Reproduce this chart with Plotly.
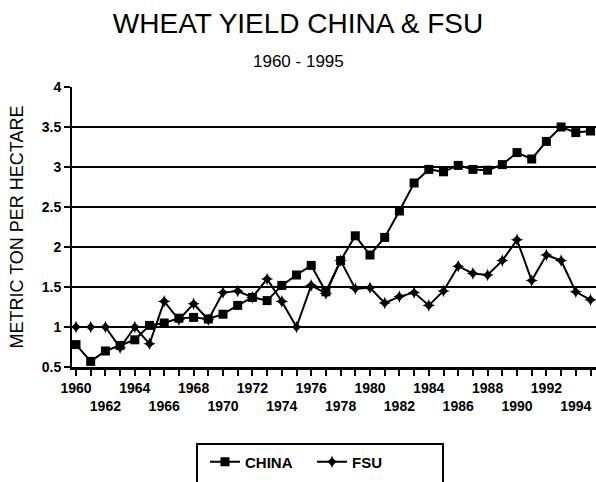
import plotly.graph_objects as go

years = list(range(1960, 1996))
china = [0.78, 0.57, 0.70, 0.77, 0.84, 1.02, 1.05, 1.11, 1.12, 1.10,
         1.16, 1.27, 1.37, 1.33, 1.52, 1.65, 1.77, 1.44, 1.83, 2.14,
         1.90, 2.12, 2.45, 2.80, 2.97, 2.94, 3.02, 2.97, 2.96, 3.03,
         3.18, 3.10, 3.32, 3.50, 3.43, 3.45]
fsu = [1.00, 1.00, 1.00, 0.74, 1.00, 0.79, 1.32, 1.09, 1.29, 1.09,
       1.43, 1.45, 1.37, 1.60, 1.32, 1.00, 1.52, 1.42, 1.83, 1.48,
       1.49, 1.30, 1.38, 1.43, 1.27, 1.45, 1.76, 1.67, 1.65, 1.83,
       2.09, 1.58, 1.90, 1.83, 1.44, 1.34]

row1_years = [1960, 1964, 1968, 1972, 1976, 1980, 1984, 1988, 1992]
row1_labels = ["1960", "1964", "1968", "1972", "1976", "1980", "1984", "1988", "1992"]
row2_years = [1962, 1966, 1970, 1974, 1978, 1982, 1986, 1990, 1994]
row2_labels = ["1962", "1966", "1970", "1974", "1978", "1982", "1986", "1990", "1994"]
y_ticks = [0.5, 1, 1.5, 2, 2.5, 3, 3.5, 4]
y_labels = ["0.5", "1", "1.5", "2", "2.5", "3", "3.5", "4"]

FONT = "Arial, Liberation Sans, Helvetica, sans-serif"
XR = [1959.728, 1995.374]

fig = go.Figure()
fig.add_trace(go.Scatter(
    x=years, y=china, name="CHINA", mode="lines+markers",
    line=dict(color="black", width=2),
    marker=dict(symbol="square", size=9, color="black"),
))
fig.add_trace(go.Scatter(
    x=years, y=fsu, name="FSU", mode="lines+markers",
    line=dict(color="black", width=2),
    marker=dict(symbol="star-diamond", size=9, color="black"),
))
# empty trace so that the second label row axis is drawn
fig.add_trace(go.Scatter(x=[], y=[], xaxis="x2", yaxis="y", showlegend=False,
                         hoverinfo="skip"))

fig.update_layout(
    width=596, height=482,
    margin=dict(l=72, r=0, t=87, b=115),
    paper_bgcolor="white", plot_bgcolor="white",
    font=dict(family=FONT, color="black"),
    title=dict(text="WHEAT YIELD CHINA & FSU", x=0.5, xref="container", xanchor="center",
               y=1 - 23 / 482, yanchor="middle",
               font=dict(size=28, family=FONT, color="black")),
    showlegend=True,
    legend=dict(orientation="h", x=(205 - 72) / 524, xanchor="left",
                y=(367 - 462) / 280, yanchor="middle",
                entrywidth=62, entrywidthmode="pixels",
                font=dict(size=15, family=FONT, weight="bold"),
                bgcolor="rgba(0,0,0,0)", borderwidth=0),
    xaxis=dict(range=XR, tickmode="array", tickvals=row1_years, ticktext=row1_labels,
               ticks="outside", ticklen=6, tickwidth=2, tickcolor="black",
               minor=dict(ticks="outside", dtick=1, tick0=1960, ticklen=6,
                          tickwidth=2, tickcolor="black", showgrid=False),
               showline=True, linecolor="black", linewidth=3,
               showgrid=False, zeroline=False,
               tickfont=dict(size=14, family=FONT, weight="bold")),
    xaxis2=dict(range=XR, overlaying="x", anchor="y", side="bottom",
                tickmode="array", tickvals=row2_years, ticktext=row2_labels,
                ticks="", showline=False, showgrid=False, zeroline=False,
                ticklabelstandoff=29,
                tickfont=dict(size=14, family=FONT, weight="bold")),
    yaxis=dict(range=[0.5, 4], tickmode="array", tickvals=y_ticks, ticktext=y_labels,
               ticks="outside", ticklen=6, tickwidth=2, tickcolor="black",
               showline=True, linecolor="black", linewidth=2,
               showgrid=True, gridcolor="black", gridwidth=2, zeroline=False,
               tickfont=dict(size=14, family=FONT, weight="bold"),
               title=dict(text="METRIC TON PER HECTARE", standoff=13,
                          font=dict(size=18, family=FONT))),
    shapes=[dict(type="rect", xref="paper", yref="paper",
                 x0=(197 - 72) / 524, x1=(443 - 72) / 524,
                 y0=(367 - 444) / 280, y1=(367 - 495) / 280,
                 line=dict(color="black", width=2), fillcolor="rgba(0,0,0,0)")],
    annotations=[dict(text="1960 - 1995", xref="paper", yref="paper",
                      x=(298 - 72) / 524, y=(367 - 61.5) / 280,
                      xanchor="center", yanchor="middle", showarrow=False,
                      font=dict(size=17, family=FONT, color="black"))],
)

fig.write_html("out.html", config={"displayModeBar": False},
               post_script="document.body.style.margin='0';document.body.style.overflow='hidden';")
